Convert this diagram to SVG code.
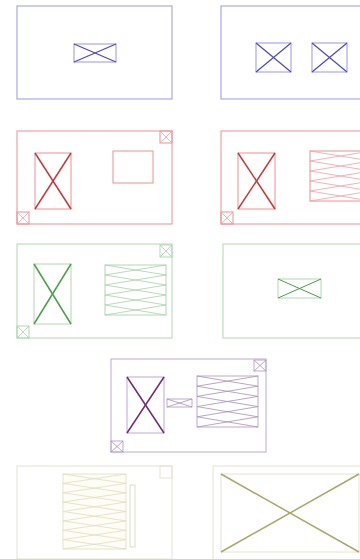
<svg xmlns="http://www.w3.org/2000/svg" width="360" height="559" viewBox="0 0 360 559">
<style>
rect{fill:none}
line{fill:none}
.bo{stroke:#a8a8f0;stroke-width:1.2}
.bx{stroke:#4848c8;stroke-width:1.2}
.ro{stroke:#f09090;stroke-width:1}
.rx{stroke:#c83838;stroke-width:1.5}
.rz{stroke:#f0a0a8;stroke-width:0.8}
.go{stroke:#b0d8b0;stroke-width:1}
.gx{stroke:#48a048;stroke-width:1.5}
.gz{stroke:#a8d0a8;stroke-width:0.8}
.po{stroke:#c0a8d0;stroke-width:1}
.px{stroke:#702878;stroke-width:1.5}
.pz{stroke:#a890b0;stroke-width:0.8}
.oo{stroke:#e4e4d0;stroke-width:1}
.oz{stroke:#e0dcc0;stroke-width:0.8}
.ox{stroke:#a8a868;stroke-width:1.5}
</style>
<rect width="360" height="559" fill="#ffffff"/>

<g id="panel1">
<rect class="bo" x="17" y="6" width="155" height="93"/>
<rect class="bo" x="74" y="44" width="42" height="18"/>
<line class="bx" x1="74" y1="44" x2="116" y2="62"/>
<line class="bx" x1="116" y1="44" x2="74" y2="62"/>
</g>

<g id="panel2">
<rect class="bo" x="221" y="6" width="155" height="93"/>
<rect class="bo" x="256" y="43" width="35" height="29"/>
<line class="bx" x1="256" y1="43" x2="291" y2="72"/>
<line class="bx" x1="291" y1="43" x2="256" y2="72"/>
<rect class="bo" x="312" y="43" width="35" height="29"/>
<line class="bx" x1="312" y1="43" x2="347" y2="72"/>
<line class="bx" x1="347" y1="43" x2="312" y2="72"/>
</g>

<g id="panel3">
<rect class="ro" x="17" y="131" width="155" height="93"/>
<rect class="ro" x="160" y="131" width="12" height="12"/>
<line class="rz" x1="160" y1="131" x2="172" y2="143"/><line class="rz" x1="172" y1="131" x2="160" y2="143"/>
<rect class="ro" x="17" y="212" width="12" height="12"/>
<line class="rz" x1="17" y1="212" x2="29" y2="224"/><line class="rz" x1="29" y1="212" x2="17" y2="224"/>
<rect class="ro" x="35" y="153" width="36" height="56"/>
<line class="rx" x1="35" y1="153" x2="71" y2="209"/>
<line class="rx" x1="71" y1="153" x2="35" y2="209"/>
<rect class="ro" x="113" y="151" width="40" height="32"/>
</g>

<g id="panel4">
<rect class="ro" x="221" y="131" width="155" height="93"/>
<rect class="ro" x="221" y="212" width="12" height="12"/>
<line class="rz" x1="221" y1="212" x2="233" y2="224"/><line class="rz" x1="233" y1="212" x2="221" y2="224"/>
<rect class="ro" x="238" y="153" width="37" height="56"/>
<line class="rx" x1="238" y1="153" x2="275" y2="209"/>
<line class="rx" x1="275" y1="153" x2="238" y2="209"/>
<rect class="ro" x="310" y="151" width="61" height="50"/>
<g class="rz">
<line x1="310" y1="151" x2="371" y2="161"/><line x1="371" y1="151" x2="310" y2="161"/>
<line x1="310" y1="161" x2="371" y2="171"/><line x1="371" y1="161" x2="310" y2="171"/>
<line x1="310" y1="171" x2="371" y2="181"/><line x1="371" y1="171" x2="310" y2="181"/>
<line x1="310" y1="181" x2="371" y2="191"/><line x1="371" y1="181" x2="310" y2="191"/>
<line x1="310" y1="191" x2="371" y2="201"/><line x1="371" y1="191" x2="310" y2="201"/>
</g>
</g>

<g id="panel5">
<rect class="go" x="17" y="244" width="155" height="94"/>
<rect class="go" x="160" y="245" width="12" height="12"/>
<line class="gz" x1="160" y1="245" x2="172" y2="257"/><line class="gz" x1="172" y1="245" x2="160" y2="257"/>
<rect class="go" x="17" y="326" width="12" height="12"/>
<line class="gz" x1="17" y1="326" x2="29" y2="338"/><line class="gz" x1="29" y1="326" x2="17" y2="338"/>
<rect class="go" x="34" y="264" width="37" height="60"/>
<line class="gx" x1="34" y1="264" x2="71" y2="324"/>
<line class="gx" x1="71" y1="264" x2="34" y2="324"/>
<rect class="go" x="105" y="265" width="61" height="50"/>
<g class="gz">
<line x1="105" y1="265" x2="166" y2="275"/><line x1="166" y1="265" x2="105" y2="275"/>
<line x1="105" y1="275" x2="166" y2="285"/><line x1="166" y1="275" x2="105" y2="285"/>
<line x1="105" y1="285" x2="166" y2="295"/><line x1="166" y1="285" x2="105" y2="295"/>
<line x1="105" y1="295" x2="166" y2="305"/><line x1="166" y1="295" x2="105" y2="305"/>
<line x1="105" y1="305" x2="166" y2="315"/><line x1="166" y1="305" x2="105" y2="315"/>
</g>
</g>

<g id="panel6">
<rect class="go" x="223" y="244" width="155" height="94"/>
<rect class="go" x="278" y="279" width="43" height="19"/>
<line class="gx" style="stroke-width:1" x1="278" y1="279" x2="321" y2="298"/>
<line class="gx" style="stroke-width:1" x1="321" y1="279" x2="278" y2="298"/>
</g>

<g id="panel7">
<rect class="po" x="111" y="359" width="155" height="93"/>
<rect class="po" x="254" y="360" width="12" height="11"/>
<line class="pz" x1="254" y1="360" x2="266" y2="371"/><line class="pz" x1="266" y1="360" x2="254" y2="371"/>
<rect class="po" x="111" y="441" width="12" height="11"/>
<line class="pz" x1="111" y1="441" x2="123" y2="452"/><line class="pz" x1="123" y1="441" x2="111" y2="452"/>
<rect class="po" x="127" y="377" width="37" height="56"/>
<line class="px" x1="127" y1="377" x2="164" y2="433"/>
<line class="px" x1="164" y1="377" x2="127" y2="433"/>
<rect class="po" x="167" y="399" width="25" height="8"/>
<line class="pz" x1="167" y1="399" x2="192" y2="407"/><line class="pz" x1="192" y1="399" x2="167" y2="407"/>
<rect class="po" x="197" y="376" width="61" height="51"/>
<g class="pz">
<line x1="197" y1="376" x2="258" y2="386.2"/><line x1="258" y1="376" x2="197" y2="386.2"/>
<line x1="197" y1="386.2" x2="258" y2="396.4"/><line x1="258" y1="386.2" x2="197" y2="396.4"/>
<line x1="197" y1="396.4" x2="258" y2="406.6"/><line x1="258" y1="396.4" x2="197" y2="406.6"/>
<line x1="197" y1="406.6" x2="258" y2="416.8"/><line x1="258" y1="406.6" x2="197" y2="416.8"/>
<line x1="197" y1="416.8" x2="258" y2="427"/><line x1="258" y1="416.8" x2="197" y2="427"/>
</g>
</g>

<g id="panel8">
<rect class="oo" x="17" y="466" width="155" height="93"/>
<rect class="oo" x="160" y="466" width="12" height="12"/>
<rect class="oz" x="63" y="474" width="63" height="75" style="fill:#fdfdf5"/>
<g class="oz">
<line x1="63" y1="474" x2="126" y2="483.4"/><line x1="126" y1="474" x2="63" y2="483.4"/>
<line x1="63" y1="483.4" x2="126" y2="492.8"/><line x1="126" y1="483.4" x2="63" y2="492.8"/>
<line x1="63" y1="492.8" x2="126" y2="502.1"/><line x1="126" y1="492.8" x2="63" y2="502.1"/>
<line x1="63" y1="502.1" x2="126" y2="511.5"/><line x1="126" y1="502.1" x2="63" y2="511.5"/>
<line x1="63" y1="511.5" x2="126" y2="520.9"/><line x1="126" y1="511.5" x2="63" y2="520.9"/>
<line x1="63" y1="520.9" x2="126" y2="530.3"/><line x1="126" y1="520.9" x2="63" y2="530.3"/>
<line x1="63" y1="530.3" x2="126" y2="539.6"/><line x1="126" y1="530.3" x2="63" y2="539.6"/>
<line x1="63" y1="539.6" x2="126" y2="549"/><line x1="126" y1="539.6" x2="63" y2="549"/>
</g>
<rect class="oz" x="130" y="485" width="5" height="62" style="stroke:#d8d4b8"/>
</g>

<g id="panel9">
<rect class="oo" x="213" y="466" width="155" height="95"/>
<rect class="oo" x="221" y="474" width="138" height="78"/>
<line class="ox" x1="221" y1="474" x2="359" y2="552"/>
<line class="ox" x1="359" y1="474" x2="221" y2="552"/>
</g>
</svg>
